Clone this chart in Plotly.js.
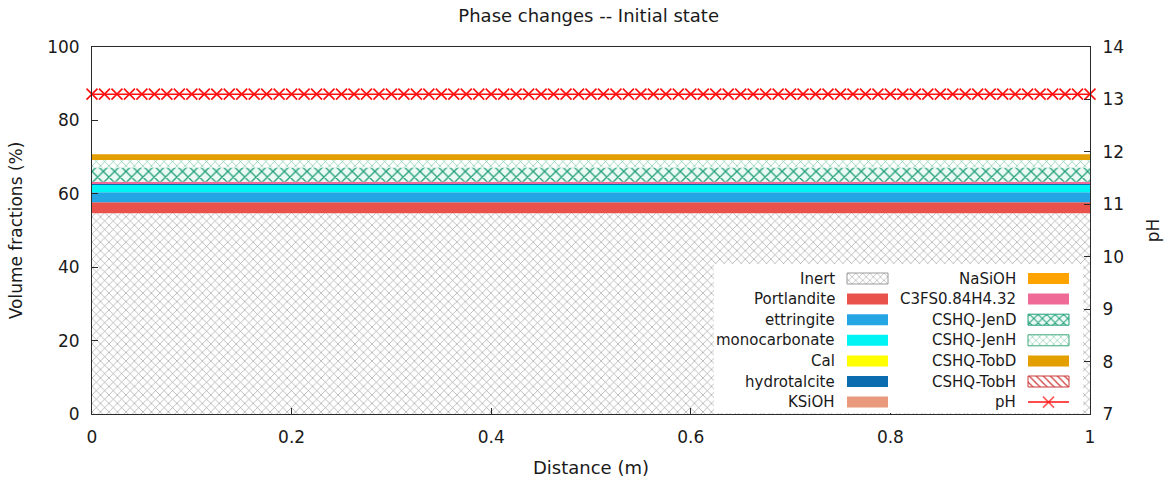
<!DOCTYPE html>
<html>
<head>
<meta charset="utf-8">
<script src="https://cdn.plot.ly/plotly-3.0.1.min.js"></script>
<style>
  html, body { margin: 0; padding: 0; background: #fff; }
  #chart { width: 1168px; height: 482px; }
</style>
</head>
<body>
<div id="chart"></div>
<script>
// Distance grid along the sample (m) used for the pH profile
const distance = [
  0, 0.0125, 0.025, 0.0375, 0.05, 0.0625, 0.075, 0.0875, 0.1, 0.1125,
  0.125, 0.1375, 0.15, 0.1625, 0.175, 0.1875, 0.2, 0.2125, 0.225, 0.2375,
  0.25, 0.2625, 0.275, 0.2875, 0.3, 0.3125, 0.325, 0.3375, 0.35, 0.3625,
  0.375, 0.3875, 0.4, 0.4125, 0.425, 0.4375, 0.45, 0.4625, 0.475, 0.4875,
  0.5, 0.5125, 0.525, 0.5375, 0.55, 0.5625, 0.575, 0.5875, 0.6, 0.6125,
  0.625, 0.6375, 0.65, 0.6625, 0.675, 0.6875, 0.7, 0.7125, 0.725, 0.7375,
  0.75, 0.7625, 0.775, 0.7875, 0.8, 0.8125, 0.825, 0.8375, 0.85, 0.8625,
  0.875, 0.8875, 0.9, 0.9125, 0.925, 0.9375, 0.95, 0.9625, 0.975, 0.9875,
  1
];

// pH of the pore solution at each grid point (initial state)
const pH = [
  13.1, 13.1, 13.1, 13.1, 13.1, 13.1, 13.1, 13.1, 13.1, 13.1,
  13.1, 13.1, 13.1, 13.1, 13.1, 13.1, 13.1, 13.1, 13.1, 13.1,
  13.1, 13.1, 13.1, 13.1, 13.1, 13.1, 13.1, 13.1, 13.1, 13.1,
  13.1, 13.1, 13.1, 13.1, 13.1, 13.1, 13.1, 13.1, 13.1, 13.1,
  13.1, 13.1, 13.1, 13.1, 13.1, 13.1, 13.1, 13.1, 13.1, 13.1,
  13.1, 13.1, 13.1, 13.1, 13.1, 13.1, 13.1, 13.1, 13.1, 13.1,
  13.1, 13.1, 13.1, 13.1, 13.1, 13.1, 13.1, 13.1, 13.1, 13.1,
  13.1, 13.1, 13.1, 13.1, 13.1, 13.1, 13.1, 13.1, 13.1, 13.1,
  13.1
];

// Phase volume fractions (%) at both ends of the sample, stacked bottom to top
const profileDistance = [0, 1];
const phaseNames = [
  "Inert", "Portlandite", "ettringite", "monocarbonate", "Cal",
  "hydrotalcite", "KSiOH", "NaSiOH", "C3FS0.84H4.32",
  "CSHQ-JenD", "CSHQ-JenH", "CSHQ-TobD", "CSHQ-TobH"
];
const inert         = [54.7, 54.7];
const portlandite   = [3.0, 3.0];
const ettringite    = [2.7, 2.7];
const monocarbonate = [2.0, 2.0];
const cal           = [0, 0];
const hydrotalcite  = [0.3, 0.3];
const ksioh         = [0, 0];
const nasioh        = [0, 0];
const c3fs          = [0.6, 0.6];
const cshqJenD      = [3.9, 3.9];
const cshqJenH      = [2.0, 2.0];
const cshqTobD      = [1.6, 1.6];
const cshqTobH      = [0, 0];
const phaseSeries = [
  inert, portlandite, ettringite, monocarbonate, cal, hydrotalcite,
  ksioh, nasioh, c3fs, cshqJenD, cshqJenH, cshqTobD, cshqTobH
];

// Fill styles for each phase (solid colour or hatch pattern)
const phaseStyles = {
  "Inert":         { color: "#ffffff", pattern: { shape: "x", fgcolor: "#9a9a9a", bgcolor: "#ffffff", size: 6, solidity: 0.2 }, edge: "#9a9a9a" },
  "Portlandite":   { color: "#e8524a" },
  "ettringite":    { color: "#25a6e4" },
  "monocarbonate": { color: "#00f4f4" },
  "Cal":           { color: "#ffff00" },
  "hydrotalcite":  { color: "#0b6db0" },
  "KSiOH":         { color: "#e99a7c" },
  "NaSiOH":        { color: "#ffa300" },
  "C3FS0.84H4.32": { color: "#f06a98" },
  "CSHQ-JenD":     { color: "#ffffff", pattern: { shape: "x", fgcolor: "#1f9e78", bgcolor: "#ecfaf4", size: 8, solidity: 0.3 }, edge: "#1f9e78" },
  "CSHQ-JenH":     { color: "#ffffff", pattern: { shape: "x", fgcolor: "#6cc39c", bgcolor: "#ffffff", size: 6, solidity: 0.2 }, edge: "#3aa97a" },
  "CSHQ-TobD":     { color: "#e39e00" },
  "CSHQ-TobH":     { color: "#ffffff", pattern: { shape: "\\", fgcolor: "#cc3a3a", bgcolor: "#ffffff", size: 6, solidity: 0.25 }, edge: "#cc3a3a" }
};

const FONT = "DejaVu Sans, Verdana, sans-serif";
const TEXT = "#1a1a1a";
const PH_RED = "#ff1010";

const traces = [];

// Stacked phase areas
phaseNames.forEach((name, i) => {
  const st = phaseStyles[name];
  const t = {
    type: "scatter",
    mode: "lines",
    name: name,
    x: profileDistance,
    y: phaseSeries[i],
    stackgroup: "phases",
    line: { width: 0, color: st.color },
    fillcolor: st.color,
    showlegend: false,
    hoverinfo: "skip",
    xaxis: "x",
    yaxis: "y"
  };
  if (st.pattern) {
    t.fillpattern = Object.assign({ fillmode: "replace" }, st.pattern);
  }
  traces.push(t);
});

// pH profile on the right axis
traces.push({
  type: "scatter",
  mode: "lines+markers",
  name: "pH",
  x: distance,
  y: pH,
  xaxis: "x",
  yaxis: "y2",
  cliponaxis: false,
  line: { color: PH_RED, width: 1.5 },
  marker: { symbol: "x-thin-open", size: 11, color: PH_RED, line: { color: PH_RED, width: 1.6 } },
  showlegend: false,
  hoverinfo: "skip"
});

// ---- Key box drawn on its own pixel-scaled axes (x3 / y3) ----
const KEY = { left: 714, right: 1083, top: 264, bottom: 413 };
const keyRow0 = 278.5, keyRowStep = 20.6, swatchH = 11;
const keyCols = [
  { textRight: 837, swLeft: 847, swWidth: 41 },
  { textRight: 1018, swLeft: 1028, swWidth: 41 }
];
const keyEntries = phaseNames.slice(0, 7).map((n, r) => ({ name: n, col: 0, row: r }))
  .concat(phaseNames.slice(7).map((n, r) => ({ name: n, col: 1, row: r })))
  .concat([{ name: "pH", col: 1, row: 6 }]);

// white background of the key
traces.push({
  type: "bar", orientation: "h", xaxis: "x3", yaxis: "y3",
  y: [(KEY.top + KEY.bottom) / 2], base: [KEY.left], x: [KEY.right - KEY.left],
  width: [KEY.bottom - KEY.top],
  marker: { color: "#ffffff", line: { width: 0 } },
  showlegend: false, hoverinfo: "skip"
});

const annotations = [];
keyEntries.forEach(e => {
  const c = keyCols[e.col];
  const yc = keyRow0 + keyRowStep * e.row;
  annotations.push({
    xref: "x3", yref: "y3", x: c.textRight, y: yc,
    xanchor: "right", yanchor: "middle", showarrow: false,
    text: e.name, font: { family: FONT, size: 15, color: TEXT }
  });
  if (e.name === "pH") {
    traces.push({
      type: "scatter", mode: "lines+markers", xaxis: "x3", yaxis: "y3",
      x: [c.swLeft, c.swLeft + c.swWidth / 2, c.swLeft + c.swWidth], y: [yc, yc, yc],
      line: { color: PH_RED, width: 1.5 },
      marker: { symbol: "x-thin-open", size: [0, 11, 0], color: PH_RED, line: { color: PH_RED, width: 1.6 } },
      showlegend: false, hoverinfo: "skip", cliponaxis: false
    });
    return;
  }
  const st = phaseStyles[e.name];
  const marker = { color: st.color, line: { width: st.pattern ? 1 : 0, color: st.edge || st.color } };
  if (st.pattern) marker.pattern = Object.assign({ fillmode: "replace" }, st.pattern, { size: Math.max(5, st.pattern.size - 2) });
  traces.push({
    type: "bar", orientation: "h", xaxis: "x3", yaxis: "y3",
    y: [yc], base: [c.swLeft], x: [c.swWidth], width: [swatchH],
    marker: marker, showlegend: false, hoverinfo: "skip"
  });
});

const ML = 92, MR = 78, MT = 47, MB = 68, W = 1168, H = 482;
const PW = W - ML - MR, PH_ = H - MT - MB;

const axisCommon = {
  showgrid: false, zeroline: false, showline: true,
  linecolor: "#2a2a2a", linewidth: 1,
  ticks: "inside", ticklen: 6, tickcolor: "#2a2a2a",
  ticklabelstandoff: 8,
  tickfont: { family: FONT, size: 17, color: TEXT },
  fixedrange: true
};

const layout = {
  width: W, height: H,
  margin: { l: ML, r: MR, t: MT, b: MB },
  paper_bgcolor: "#ffffff",
  plot_bgcolor: "rgba(0,0,0,0)",
  showlegend: false,
  barmode: "overlay",
  font: { family: FONT, color: TEXT },
  title: {
    text: "Phase changes -- Initial state",
    font: { family: FONT, size: 18, color: TEXT },
    x: 0.504, xanchor: "center", xref: "container",
    y: 0.968, yanchor: "middle", yref: "container"
  },
  xaxis: Object.assign({}, axisCommon, {
    range: [0, 1], dtick: 0.2, tick0: 0, mirror: true,
    title: { text: "Distance (m)", font: { family: FONT, size: 18, color: TEXT }, standoff: 14 },
    automargin: false
  }),
  yaxis: Object.assign({}, axisCommon, {
    range: [0, 100], dtick: 20, tick0: 0,
    title: { text: "Volume fractions (%)", font: { family: FONT, size: 17, color: TEXT }, standoff: 20 },
    automargin: false
  }),
  yaxis2: Object.assign({}, axisCommon, {
    overlaying: "y", side: "right", anchor: "x",
    range: [7, 14], dtick: 1, tick0: 7,
    title: { text: "pH", font: { family: FONT, size: 17, color: TEXT }, standoff: 24 },
    automargin: false
  }),
  // pixel-scaled axes holding the key box
  xaxis3: {
    domain: [0, 1], range: [ML, ML + PW], visible: false, fixedrange: true, anchor: "y3"
  },
  yaxis3: {
    domain: [0, 1], range: [MT + PH_, MT], visible: false, fixedrange: true, anchor: "x3"
  },
  annotations: annotations
};

Plotly.newPlot("chart", traces, layout, { staticPlot: true, displayModeBar: false });
</script>
</body>
</html>
